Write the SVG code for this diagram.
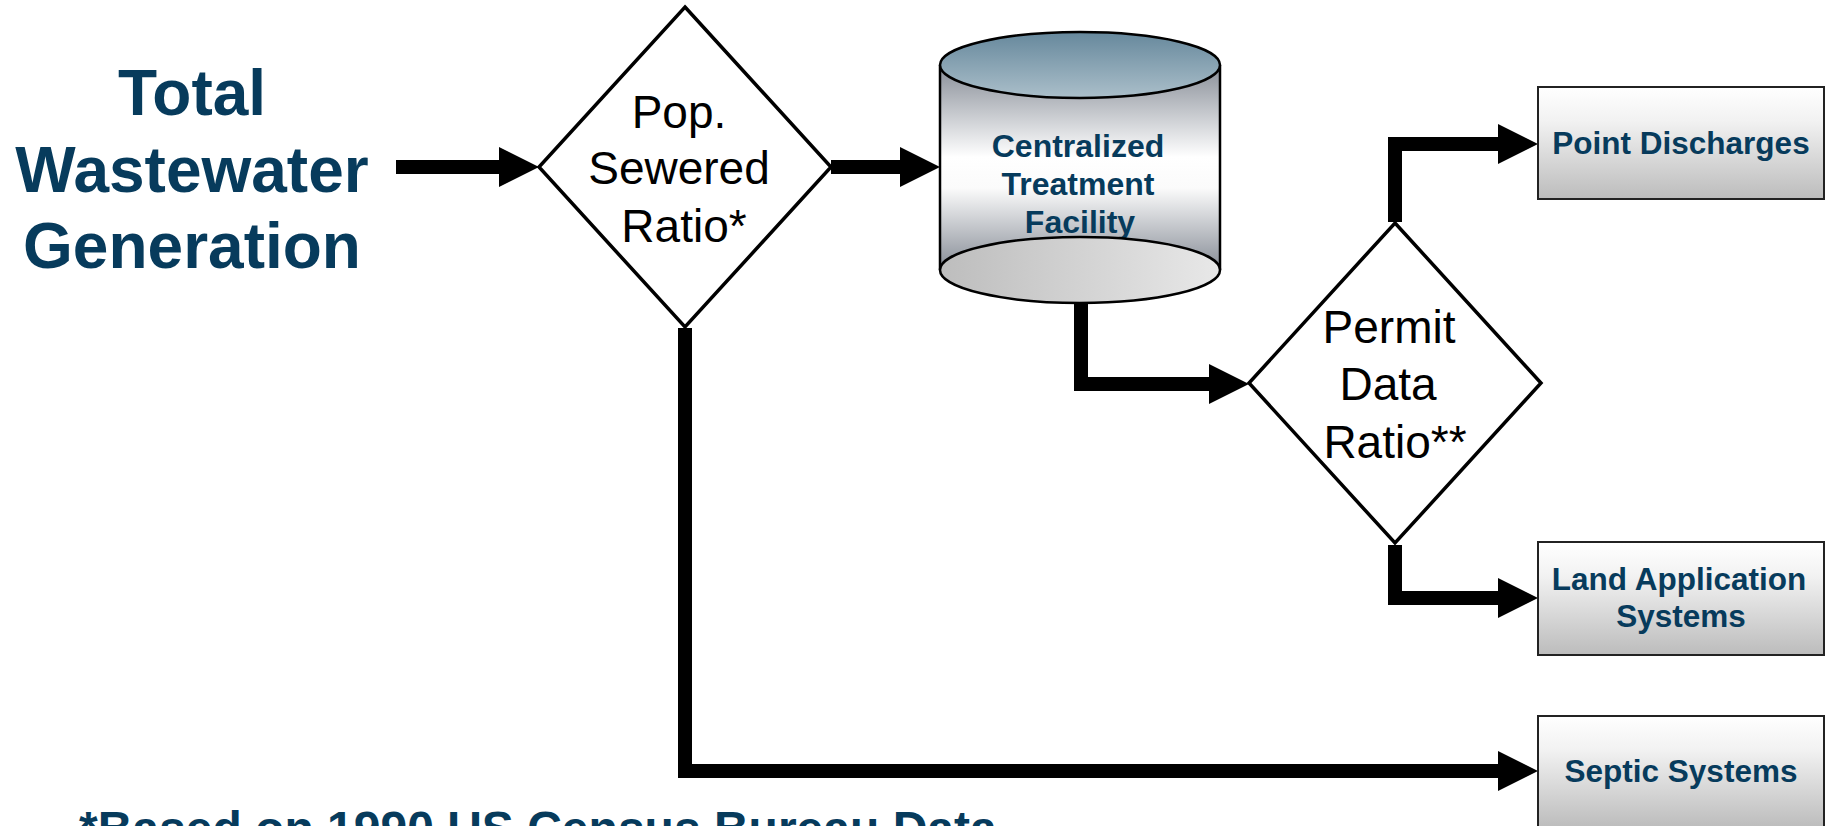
<svg xmlns="http://www.w3.org/2000/svg" width="1828" height="826" viewBox="0 0 1828 826">
<defs>
<style>
.navy{fill:#073b5c;font-family:"Liberation Sans",Arial,sans-serif;font-weight:bold;text-anchor:middle}
.dtext{fill:#000;font-family:"Liberation Sans",Arial,sans-serif;font-size:46px;text-anchor:middle}
.diamond{fill:#fff;stroke:#000;stroke-width:3.5}
.box{fill:url(#boxg);stroke:#222;stroke-width:2}
.conn{fill:none;stroke:#000;stroke-width:14;stroke-linejoin:miter}
</style>
<linearGradient id="boxg" x1="0" y1="0" x2="0" y2="1">
<stop offset="0" stop-color="#ffffff"/><stop offset="0.3" stop-color="#f2f2f2"/><stop offset="1" stop-color="#bcbcbc"/>
</linearGradient>
<linearGradient id="bodyg" x1="0" y1="0" x2="0" y2="1">
<stop offset="0" stop-color="#878d97"/><stop offset="0.45" stop-color="#ffffff"/><stop offset="0.6" stop-color="#fbfbfb"/><stop offset="1" stop-color="#868c96"/>
</linearGradient>
<linearGradient id="topg" x1="0" y1="0" x2="0" y2="1">
<stop offset="0" stop-color="#66889c"/><stop offset="1" stop-color="#abbfca"/>
</linearGradient>
<linearGradient id="botg" x1="0" y1="0" x2="1" y2="0">
<stop offset="0" stop-color="#bdbdbd"/><stop offset="1" stop-color="#e8e8e8"/>
</linearGradient>
<marker id="ah" markerUnits="userSpaceOnUse" markerWidth="41" markerHeight="40" refX="0" refY="20" orient="auto" overflow="visible">
<path d="M0,0 L40,20 L0,40 Z" fill="#000"/>
</marker>
</defs>
<rect width="1828" height="826" fill="#fff"/>

<g id="connectors">
<path class="conn" d="M396,167 H499" marker-end="url(#ah)"/>
<path class="conn" d="M831,167 H900" marker-end="url(#ah)"/>
<path class="conn" d="M1081,303 V384 H1209" marker-end="url(#ah)"/>
<path class="conn" d="M1395,222 V144 H1498" marker-end="url(#ah)"/>
<path class="conn" d="M1395,545 V598 H1498" marker-end="url(#ah)"/>
<path class="conn" d="M685,328 V771 H1498" marker-end="url(#ah)"/>
</g>

<g id="total-wastewater">
<text class="navy" font-size="64" x="192" y="115">Total</text>
<text class="navy" font-size="64" x="192" y="192">Wastewater</text>
<text class="navy" font-size="64" x="192" y="268">Generation</text>
</g>

<g id="pop-sewered">
<polygon class="diamond" points="685,7 831,167 685,327 539,167"/>
<text class="dtext" x="679" y="128">Pop.</text>
<text class="dtext" x="679" y="184">Sewered</text>
<text class="dtext" x="684" y="242">Ratio*</text>
</g>

<g id="centralized-treatment">
<path d="M940,65 V270 H1220 V65 Z" fill="url(#bodyg)"/>
<path d="M940,65 V270 M1220,65 V270" stroke="#000" stroke-width="2.5" fill="none"/>
<text class="navy" font-size="32" x="1078" y="157">Centralized</text>
<text class="navy" font-size="32" x="1078" y="195">Treatment</text>
<text class="navy" font-size="32" x="1080" y="233">Facility</text>
<ellipse cx="1080" cy="270" rx="140" ry="33" fill="url(#botg)" stroke="#000" stroke-width="2.5"/>
<ellipse cx="1080" cy="65" rx="140" ry="33" fill="url(#topg)" stroke="#000" stroke-width="2.5"/>
</g>

<g id="permit-data">
<polygon class="diamond" points="1395,223 1541,383 1395,543 1249,383"/>
<text class="dtext" x="1389" y="343">Permit</text>
<text class="dtext" x="1388" y="400">Data</text>
<text class="dtext" x="1395" y="458">Ratio**</text>
</g>

<g id="point-discharges">
<rect class="box" x="1538" y="87" width="286" height="112"/>
<text class="navy" font-size="31.5" x="1681" y="154">Point Discharges</text>
</g>

<g id="land-application">
<rect class="box" x="1538" y="542" width="286" height="113"/>
<text class="navy" font-size="31.5" x="1679" y="590">Land Application</text>
<text class="navy" font-size="31.5" x="1681" y="627">Systems</text>
</g>

<g id="septic-systems">
<rect class="box" x="1538" y="716" width="286" height="112"/>
<text class="navy" font-size="31.5" x="1681" y="782">Septic Systems</text>
</g>

<g id="footnote">
<text class="navy" font-size="48" x="79" y="845" style="text-anchor:start">*Based on 1990 US Census Bureau Data</text>
</g>
</svg>
